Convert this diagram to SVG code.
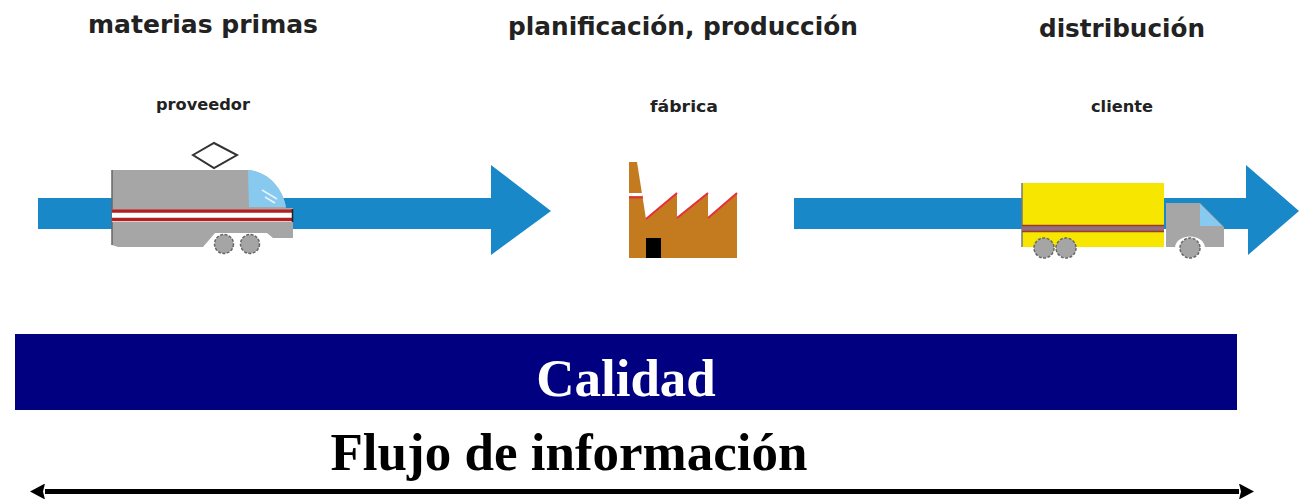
<svg xmlns="http://www.w3.org/2000/svg" width="1299" height="499" viewBox="0 0 1299 499">
<style>
.hand{font-family:"DejaVu Sans","Liberation Sans",sans-serif;font-weight:700;fill:#222}
.big{font-size:24px}
.small{font-size:16px}
.ser{font-family:"Liberation Serif",serif;font-weight:700;font-size:53px}
.flow{fill:#1888c9}
.wheel{fill:#a5a5a5;stroke:#666;stroke-width:1.5;stroke-dasharray:3 1.5}
</style>
<defs>
<marker id="ah" viewBox="0 0 15 16" refX="0" refY="8" markerWidth="15" markerHeight="16" markerUnits="userSpaceOnUse" orient="auto-start-reverse"><path d="M0 0L15 8L0 16L2 8Z" fill="#000"/></marker>
</defs>
<g id="connectors">
<path class="flow" d="M38 198H491V165L551 211L491 255V229H38Z"/>
<path class="flow" d="M794 198H1246V165L1299 211L1248 255V229H794Z"/>
<line x1="45" y1="491.500" x2="1239" y2="491.500" stroke="#000" stroke-width="5" marker-start="url(#ah)" marker-end="url(#ah)"/>
</g>
<g id="label-materias"><text class="hand big" x="203" y="33" text-anchor="middle" textLength="230" lengthAdjust="spacingAndGlyphs">materias primas</text></g>
<g id="label-planificacion"><text class="hand big" x="683" y="35" text-anchor="middle" textLength="350" lengthAdjust="spacingAndGlyphs">planificación, producción</text></g>
<g id="label-distribucion"><text class="hand big" x="1122" y="37" text-anchor="middle" textLength="166" lengthAdjust="spacingAndGlyphs">distribución</text></g>
<g id="proveedor">
<text class="hand small" x="203" y="110" text-anchor="middle" textLength="94" lengthAdjust="spacingAndGlyphs">proveedor</text>
<path d="M193 155L214 143L237 155L214 168Z" fill="#fff" stroke="#333" stroke-width="2"/>
<path d="M112 170H248C270 172 283 190 286 208H293V238H273L267 233H215L203 247H118L112 245Z" fill="#a6a6a6"/>
<path d="M112 170V245" stroke="#666" stroke-width="1.500"/>
<path d="M248 170C270 172 283 190 286 207H249Z" fill="#87c9ef"/>
<path d="M262 190L277 199M265 197L275 203" stroke="#e8f4fb" stroke-width="1.500"/>
<rect x="112" y="209" width="181" height="13" fill="#fff"/>
<path d="M112 211H293M112 219.500H293" stroke="#b02020" stroke-width="3.500"/>
<path d="M292.500 209V222" stroke="#222" stroke-width="1.500"/>
<circle class="wheel" cx="224" cy="244" r="9.500"/>
<circle class="wheel" cx="250" cy="244" r="9.500"/>
</g>
<g id="fabrica">
<text class="hand small" x="684" y="112" text-anchor="middle" textLength="68" lengthAdjust="spacingAndGlyphs">fábrica</text>
<path d="M629 162H637L646 219L677 193V218L708 193V218L737 193V258H629Z" fill="#c47a1e"/>
<path d="M646 219L677 193M677 218L708 193M708 218L737 193" stroke="#e5303c" stroke-width="2" fill="none"/>
<rect x="629" y="193" width="13" height="3" fill="#fff"/>
<path d="M629 197.500H643" stroke="#e5303c" stroke-width="2"/>
<rect x="646" y="238" width="15" height="20" fill="#000"/>
</g>
<g id="cliente">
<text class="hand small" x="1122" y="112" text-anchor="middle" textLength="62" lengthAdjust="spacingAndGlyphs">cliente</text>
<rect x="1022" y="183" width="142" height="64" fill="#f7e600"/>
<path d="M1022 183V247" stroke="#777" stroke-width="1.500"/>
<rect x="1022" y="225" width="142" height="7" fill="#8f6f80"/>
<path d="M1022 225.500H1164M1022 231.500H1164" stroke="#a33a20" stroke-width="1.500"/>
<path d="M1166 203H1200L1224 227V247H1205C1203 233 1177 233 1175 247H1166Z" fill="#a6a6a6"/>
<path d="M1200 204L1222 226H1200Z" fill="#87c9ef"/>
<circle class="wheel" cx="1044" cy="248" r="10"/>
<circle class="wheel" cx="1066" cy="248" r="10"/>
<circle class="wheel" cx="1190" cy="248" r="10"/>
</g>
<g id="calidad">
<rect x="15" y="334" width="1222" height="76" fill="#000080"/>
<text class="ser" x="626" y="396" text-anchor="middle" fill="#fff">Calidad</text>
</g>
<g id="flujo"><text class="ser" x="569" y="470" text-anchor="middle" fill="#000">Flujo de información</text></g>
</svg>
